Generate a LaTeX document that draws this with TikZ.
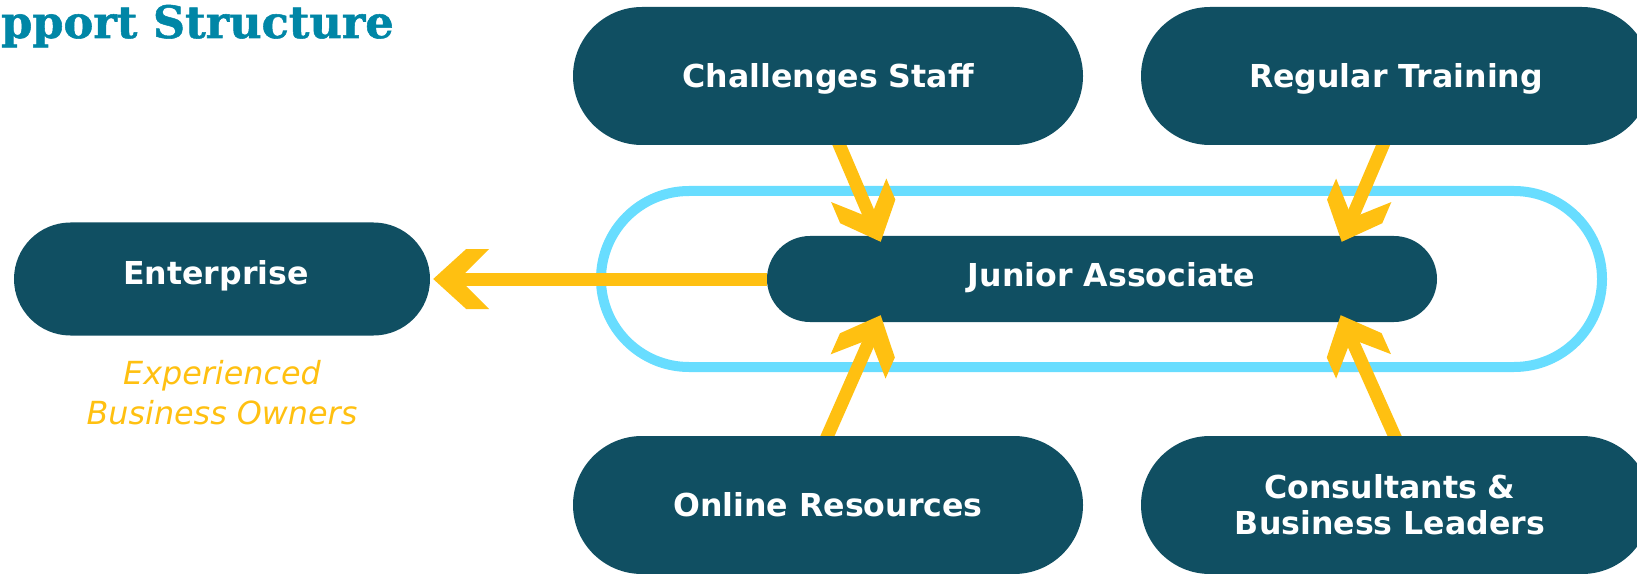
\documentclass[tikz,border=0pt]{standalone}
\usepackage{fontspec}
\newfontfamily\vfont{DejaVu Sans}
\newfontfamily\slabfont[BoldFeatures={FakeBold=1.2}]{DejaVu Serif}
\usetikzlibrary{calc}
\definecolor{navy}{RGB}{16,79,98}
\definecolor{gold}{RGB}{255,192,17}
\definecolor{sky}{RGB}{104,221,255}
\definecolor{titlecol}{RGB}{0,134,166}
\pgfdeclarelayer{front}
\pgfsetlayers{main,front}
\pgfdeclarearrow{
  name = Chev,
  setup code = {
    \pgfarrowssettipend{0bp}
    \pgfarrowssetbackend{-56bp}
    \pgfarrowssetlineend{-24bp}
    \pgfarrowshullpoint{0bp}{0bp}
    \pgfarrowshullpoint{-56bp}{30bp}
    \pgfarrowshullpoint{-56bp}{-30bp}
  },
  drawing code = {
    \pgfpathmoveto{\pgfqpoint{0bp}{0bp}}
    \pgfpathlineto{\pgfqpoint{-33bp}{30bp}}
    \pgfpathlineto{\pgfqpoint{-56bp}{30bp}}
    \pgfpathlineto{\pgfqpoint{-26bp}{0bp}}
    \pgfpathlineto{\pgfqpoint{-56bp}{-30bp}}
    \pgfpathlineto{\pgfqpoint{-33bp}{-30bp}}
    \pgfpathclose
    \pgfusepathqfill
  },
}
\tikzset{
  pill/.style={fill=navy, text=white, font=\vfont\bfseries\fontsize{31.6bp}{35.7bp}\selectfont,
    inner sep=0pt, minimum width=510bp, minimum height=138bp, rounded corners=69bp, align=center},
  capmid/.style={text height=23bp, text depth=#1},
  arr/.style={color=gold, line width=13bp, -Chev},
}
\begin{document}
\begin{tikzpicture}[x=1bp, y=-1bp]
\useasboundingbox (0,0) rectangle (1637,574);
\begin{pgfonlayer}{front}
\begin{scope}
\clip (0,0) rectangle (1637,574);
\node[pill, capmid=0bp] (cs) at (828,76) {Challenges Staff};
\node[pill, capmid=0bp] (rt) at (1396,76) {Regular Training};
\node[pill, capmid=0bp] (or) at (828,505) {Online Resources};
\node[pill] (cbl) at (1396,505) {\kern-12bp Consultants \&\\\kern-12bp Business Leaders};
\node[pill, minimum width=416bp, minimum height=113bp, rounded corners=56.5bp, capmid=12bp] (ent) at (222,279) {\kern-12bp Enterprise};
\end{scope}
\end{pgfonlayer}
\clip (0,0) rectangle (1637,574);
\node[draw=sky, line width=10bp, minimum width=1001bp, minimum height=176bp, rounded corners=88bp, inner sep=0pt] (ring) at (1101.5,279) {};
\node[pill, minimum width=670bp, minimum height=86bp, rounded corners=43bp, capmid=8bp] (ja) at (1102,279) {\kern19bp Junior Associate};
\node[anchor=base west, text=titlecol, font=\slabfont\bfseries\fontsize{44.6bp}{50bp}\selectfont, inner sep=0pt] (title) at (1,38) {pport Structure};
\node[text=gold, font=\vfont\itshape\fontsize{31.8bp}{40bp}\selectfont, align=center, inner sep=0pt] (exp) at (222,393) {Experienced\\Business Owners};
% connector end points
\coordinate (s1) at ([xshift=11.5bp]cs.south);
\coordinate (t1) at ([xshift=-221.3bp, yshift=-6bp]ja.north);
\coordinate (s2) at ([xshift=-13bp]rt.south);
\coordinate (t2) at ([xshift=239.7bp, yshift=-6bp]ja.north);
\coordinate (s3) at ([xshift=-0.5bp]or.north);
\coordinate (t3) at ([xshift=-221.3bp, yshift=7bp]ja.south);
\coordinate (s4) at ([xshift=-1.5bp]cbl.north);
\coordinate (t4) at ([xshift=238.7bp, yshift=7bp]ja.south);
\draw[arr] ($(s1)!-14bp!(t1)$) -- (t1);
\draw[arr] ($(s2)!-14bp!(t2)$) -- (t2);
\draw[arr] ($(s3)!-14bp!(t3)$) -- (t3);
\draw[arr] ($(s4)!-14bp!(t4)$) -- (t4);
\draw[arr] (ja.west) -- ([xshift=3bp]ent.east);
\end{tikzpicture}
\end{document}
